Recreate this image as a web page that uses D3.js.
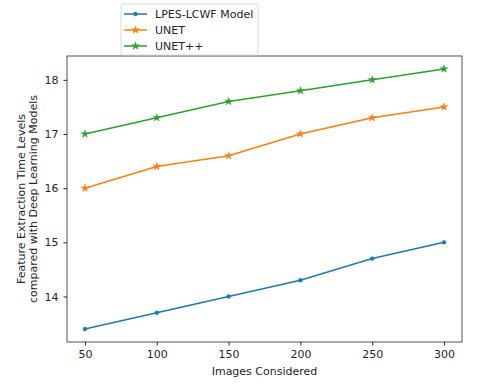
<!DOCTYPE html>
<meta charset="utf-8">
<style>
 body { margin: 0; background: #fff; }
 text { font-family: "DejaVu Sans", sans-serif; fill: #262626; }
 .axis path, .axis line { stroke: #262626; }
</style>
<body>
<script src="https://d3js.org/d3.v7.min.js"></script>
<script>
 // data
 var images = [50, 100, 150, 200, 250, 300];
 var lpes = [13.4, 13.7, 14.0, 14.3, 14.7, 15.0];
 var unet = [16.0, 16.4, 16.6, 17.0, 17.3, 17.5];
 var unetpp = [17.0, 17.3, 17.6, 17.8, 18.0, 18.2];
 var xTicks = [50, 100, 150, 200, 250, 300];
 var yTicks = [14, 15, 16, 17, 18];

 var series = [
   { name: "LPES-LCWF Model", values: lpes, color: "#1f77b4", marker: "dot" },
   { name: "UNET", values: unet, color: "#ff7f0e", marker: "star" },
   { name: "UNET++", values: unetpp, color: "#2ca02c", marker: "star" }
 ];

 var W = 480, H = 387;
 var margin = { top: 56, right: 18, bottom: 45, left: 67 },
     width = W - margin.left - margin.right,
     height = H - margin.top - margin.bottom;

 var svg = d3.select("body").append("svg")
   .attr("width", W).attr("height", H);
 var g = svg.append("g")
   .attr("transform", "translate(" + margin.left + "," + margin.top + ")");

 var x = d3.scaleLinear().domain([37.5, 312.5]).range([0, width]);
 var y = d3.scaleLinear().domain([13.16, 18.44]).range([height, 0]);

 g.append("g").attr("class", "axis")
   .attr("transform", "translate(0," + height + ")")
   .call(d3.axisBottom(x).tickValues(xTicks).tickFormat(d3.format("d")).tickSize(3.5).tickPadding(5))
   .call(function (a) { a.select(".domain").remove(); })
   .selectAll("text").style("font-size", "11px");

 g.append("g").attr("class", "axis")
   .call(d3.axisLeft(y).tickValues(yTicks).tickFormat(d3.format("d")).tickSize(3.5).tickPadding(5))
   .call(function (a) { a.select(".domain").remove(); })
   .selectAll("text").style("font-size", "11px");

 g.append("rect")
   .attr("width", width).attr("height", height)
   .attr("fill", "none").attr("stroke", "#262626").attr("stroke-width", 0.8);

 var line = d3.line()
   .x(function (d, i) { return x(images[i]); })
   .y(function (d) { return y(d); });

 var star = d3.symbol().type(d3.symbolStar).size(18);
 var dot = d3.symbol().type(d3.symbolCircle).size(12);

 function drawMarker(sel, m, color) {
   sel.append("path")
     .attr("d", m === "star" ? star() : dot())
     .attr("fill", color).attr("stroke", color).attr("stroke-width", 0.5);
 }

 series.forEach(function (s) {
   g.append("path").datum(s.values)
     .attr("d", line)
     .attr("fill", "none").attr("stroke", s.color).attr("stroke-width", 1.5);
   s.values.forEach(function (v, i) {
     var mk = g.append("g").attr("transform", "translate(" + x(images[i]) + "," + y(v) + ")");
     drawMarker(mk, s.marker, s.color);
   });
 });

 // axis labels
 g.append("text")
   .attr("x", width / 2).attr("y", height + 33)
   .attr("text-anchor", "middle").style("font-size", "11px")
   .text("Images Considered");

 var yl = svg.append("text")
   .attr("transform", "translate(25," + (margin.top + height / 2) + ") rotate(-90)")
   .attr("text-anchor", "middle").style("font-size", "11px");
 yl.append("tspan").attr("x", 0).attr("dy", 0).text("Feature Extraction Time Levels");
 yl.append("tspan").attr("x", 0).attr("dy", "1.1em").text("compared with Deep Learning Models");

 // legend
 var lg = svg.append("g").attr("transform", "translate(121,4)");
 lg.append("rect")
   .attr("width", 137).attr("height", 51).attr("rx", 2)
   .attr("fill", "#fff").attr("fill-opacity", 0.8)
   .attr("stroke", "#d0d0d0").attr("stroke-width", 0.8);
 series.forEach(function (s, i) {
   var yy = 10 + i * 16;
   lg.append("line")
     .attr("x1", 3).attr("x2", 26).attr("y1", yy).attr("y2", yy)
     .attr("stroke", s.color).attr("stroke-width", 1.5);
   var mk = lg.append("g").attr("transform", "translate(14.5," + yy + ")");
   drawMarker(mk, s.marker, s.color);
   lg.append("text")
     .attr("x", 34).attr("y", yy).attr("dy", "0.35em")
     .style("font-size", "11px").text(s.name);
 });
</script>
</body>
